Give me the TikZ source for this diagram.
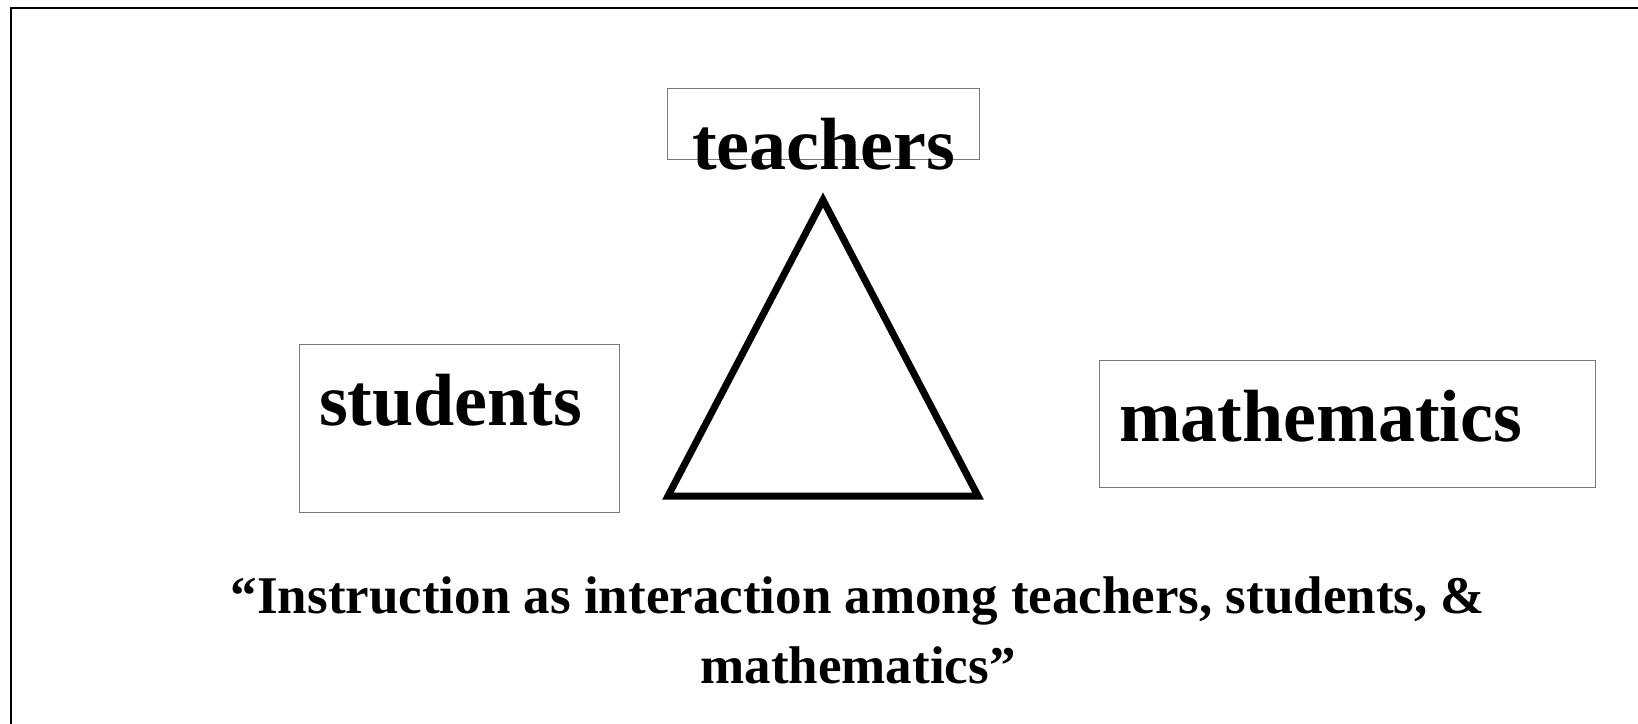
\documentclass[tikz,border=0pt]{standalone}
\usepackage{fontspec}
\setmainfont{Liberation Serif}
\begin{document}
\begin{tikzpicture}[x=1pt,y=-1pt,
  box/.style={draw=boxgray,line width=1pt,inner sep=0pt,outer sep=0pt,rectangle},
  biglabel/.style={font=\fontsize{74}{80}\selectfont\bfseries,inner sep=0pt,anchor=base west},
  caption/.style={font=\fontsize{53}{60}\selectfont\bfseries,inner sep=0pt,anchor=base}]
\definecolor{boxgray}{RGB}{120,120,120}
\useasboundingbox (0,0) rectangle (1638,723);
\clip (0,0) rectangle (1638,723);
\draw[line width=1.4pt] (11,760) -- (11,8) -- (1680,8);
% boxes
\node[box,minimum width=312pt,minimum height=71pt] (tbox) at (823,123.5) {};
\node[box,minimum width=320pt,minimum height=168pt] (sbox) at (459,428) {};
\node[box,minimum width=496pt,minimum height=127pt] (mbox) at (1347,423.5) {};
% labels
\node[biglabel] (tlab) at (692,169) {teachers};
\node[biglabel] (slab) at (319,425) {students};
\node[biglabel] (mlab) at (1119,441.5) {mathematics};
% triangle
\coordinate (apex) at (823,200);
\coordinate (bl) at (668,496);
\coordinate (br) at (978,496);
\draw[line width=7pt,miter limit=10] (apex) -- (bl) -- (br) -- cycle;
% caption
\node[caption] (cap1) at (858,613) {“Instruction as interaction among teachers, students, \&};
\node[caption] (cap2) at (858,683) {mathematics”};
\end{tikzpicture}
\end{document}
